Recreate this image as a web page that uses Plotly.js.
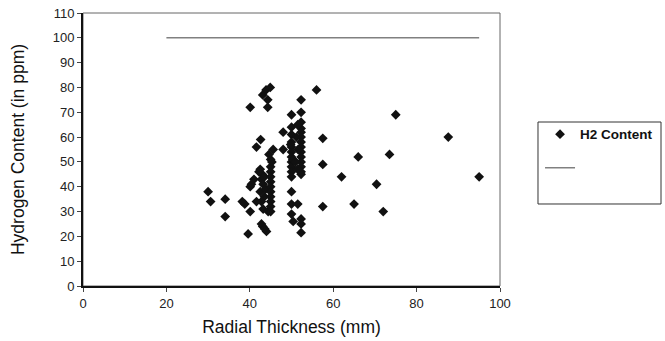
<!DOCTYPE html>
<html>
<head>
<meta charset="utf-8">
<script src="https://cdn.plot.ly/plotly-3.0.1.min.js"></script>
<style>html,body{margin:0;padding:0;background:#fff}#chart{width:665px;height:341px}</style>
</head>
<body>
<div id="chart"></div>
<script>
// Radial thickness (mm) of each sample
const thicknessMM = [
  30.0, 30.6, 34.1, 34.1, 38.2, 38.8, 40.1, 39.6, 40.1, 41.6,
  43.1, 43.9, 44.9, 44.3, 44.3, 42.6, 41.6, 45.6, 45.0, 41.0,
  40.1, 40.4, 43.1, 44.0, 42.8, 43.6,
  42.5, 43.0, 42.8, 43.2, 42.5, 43.5, 43.2, 44.4, 42.8, 43.8, 43.5, 42.2,
  45.0, 45.0, 45.0, 45.0, 45.0, 45.0, 45.0, 45.0, 45.0, 45.0, 45.3, 44.6,
  48.0, 48.0,
  50.0, 50.0, 50.0, 50.0, 50.0, 50.0, 50.0, 50.0, 50.0, 50.0, 50.0, 50.0, 50.0, 51.5, 50.0, 50.4, 49.8, 50.3,
  52.3, 52.3, 52.3, 52.3, 52.3, 52.3, 52.3, 52.3, 52.3, 52.3, 52.3, 52.3, 52.3, 52.3,
  51.5, 51.2, 51.6, 51.0, 51.5, 52.3, 52.3, 52.3,
  56.0, 57.5, 57.5, 57.5, 62.0, 65.0, 66.0, 70.4, 72.0, 73.5, 75.0, 87.6, 95.0
];
// Hydrogen content (ppm) of each sample
const h2ppm = [
  38, 34, 35, 28, 34, 33, 30, 21, 72, 34,
  77, 79, 80, 75, 72, 59, 56, 55, 51, 43,
  40, 41, 24, 22, 25, 23,
  47, 45, 43, 41, 38, 36, 31, 30, 34, 39, 44, 46,
  48, 46, 44, 42, 40, 38, 36, 34, 32, 30, 50, 53,
  62, 55,
  69, 64, 61, 58, 56, 54, 52, 50, 48, 46, 44, 38, 33, 33, 29, 26, 57, 51,
  75, 70, 66, 63.5, 62, 60, 58, 56, 54, 52, 50, 48, 46, 45,
  65, 60, 55, 50, 47, 27, 25, 21.5,
  79, 59.5, 49, 32, 44, 33, 52, 41, 30, 53, 69, 60, 44
];
// Reference line
const refLineX = [20, 95];
const refLineY = [100, 100];

const font = 'Liberation Sans, Arial, sans-serif';

const traces = [
  {
    x: thicknessMM, y: h2ppm, type: 'scatter', mode: 'markers', name: '<b>H2 Content</b>',
    legendgroup: 'a',
    marker: {symbol: 'diamond', size: 7.5, color: '#111111'}
  },
  {
    x: refLineX, y: refLineY, type: 'scatter', mode: 'lines', name: ' ',
    legendgroup: 'b',
    line: {color: '#808080', width: 1.5}
  }
];

const layout = {
  width: 665, height: 341,
  margin: {l: 83, r: 165, t: 13, b: 55, autoexpand: false},
  paper_bgcolor: '#fff', plot_bgcolor: '#fff',
  font: {family: font, color: '#222', size: 13},
  showlegend: true,
  legend: {
    x: 1.096, y: 0.612, xanchor: 'left', yanchor: 'top',
    borderwidth: 0, bgcolor: 'rgba(0,0,0,0)',
    traceorder: 'grouped', tracegroupgap: 13,
    font: {family: font, size: 13.5, color: '#111'},
    itemwidth: 30
  },
  xaxis: {
    range: [0, 100], tickvals: [0, 20, 40, 60, 80, 100],
    showgrid: false, zeroline: false,
    showline: true, linecolor: '#111', linewidth: 2,
    ticks: 'outside', ticklen: 4, tickcolor: '#444', tickwidth: 1,
    tickfont: {family: font, size: 13, color: '#222'},
    title: {text: 'Radial Thickness (mm)', font: {family: font, size: 17.5, color: '#111'}, standoff: 11}
  },
  yaxis: {
    range: [0, 110], tickvals: [0,10,20,30,40,50,60,70,80,90,100,110],
    showgrid: false, zeroline: false,
    showline: true, linecolor: '#111', linewidth: 2,
    ticks: 'outside', ticklen: 4, tickcolor: '#444', tickwidth: 1,
    tickfont: {family: font, size: 13, color: '#222'},
    title: {text: 'Hydrogen Content (in ppm)', font: {family: font, size: 17.5, color: '#111'}, standoff: 24}
  },
  shapes: [
    {type: 'rect', xref: 'paper', yref: 'paper', x0: 0, x1: 1, y0: 0, y1: 1,
     line: {color: '#666', width: 1}, layer: 'below'},
    {type: 'rect', xref: 'paper', yref: 'paper', x0: 1.0911, x1: 1.3861, y0: 0.3004, y1: 0.6007,
     line: {color: '#333', width: 1}, layer: 'below'}
  ]
};

Plotly.newPlot('chart', traces, layout, {displayModeBar: false, staticPlot: true});
</script>
</body>
</html>
